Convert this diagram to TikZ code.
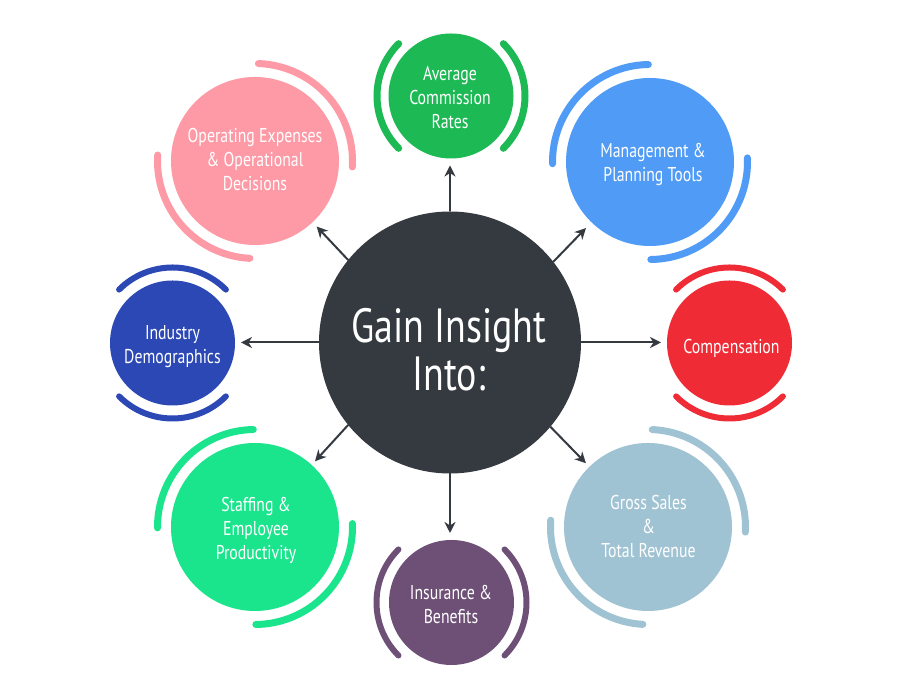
\documentclass[tikz,border=0pt]{standalone}
\usepackage{fontspec}
\setmainfont[FakeStretch=0.79]{PT Sans}
\usetikzlibrary{arrows.meta}
\definecolor{cdark}{HTML}{343A40}
\definecolor{cpink}{HTML}{FE9AA6}
\definecolor{cgreen}{HTML}{1DB954}
\definecolor{cblue}{HTML}{4F9BF5}
\definecolor{cred}{HTML}{EF2B36}
\definecolor{cnavy}{HTML}{2B48B5}
\definecolor{cmint}{HTML}{1AE48C}
\definecolor{csteel}{HTML}{A0C3D3}
\definecolor{cplum}{HTML}{6E5077}
\newcommand{\placed}[3]{\raisebox{-#2pt}[0pt][0pt]{\makebox[0pt]{\hspace{#1pt}\hspace{#1pt}\begin{tabular}{@{}c@{}}#3\end{tabular}}}}
\tikzset{
  x=1pt,y=1pt,
  topic/.style={circle,inner sep=0pt,outer sep=0pt,text=white,
    font=\fontsize{20}{24}\selectfont},
  bigtopic/.style={topic,minimum size=168pt},
  smalltopic/.style={topic,minimum size=125pt},
  hubnode/.style={circle,inner sep=0pt,outer sep=0pt,minimum size=262pt,fill=cdark,
    text=white,font=\fontsize{48}{48}\selectfont},
  bigarc/.style={line width=7pt,line cap=round},
  smallarc/.style={line width=6pt,line cap=round},
  link/.style={draw=cdark,line width=2pt,-{Stealth[length=11pt,width=11pt,inset=3.5pt]}}
}
\begin{document}
\begin{tikzpicture}
\useasboundingbox (0,0) rectangle (906,700);
\fill[white] (0,0) rectangle (906,700);

\node[hubnode] (hub) at (450,357.5) {\placed{-1}{20}{Gain Insight\\Into:}};
\node[bigtopic,fill=cpink] (pink) at (255,539) {\placed{0}{6}{Operating Expenses\\\& Operational\\Decisions}};
\node[smalltopic,fill=cgreen] (green) at (451,604) {\placed{-1}{9}{Average\\Commission\\Rates}};
\node[bigtopic,fill=cblue] (blue) at (650,538) {\placed{3}{8}{Management \&\\Planning Tools}};
\node[smalltopic,fill=cred] (red) at (729.5,357) {\placed{2}{11}{Compensation}};
\node[smalltopic,fill=cnavy] (navy) at (172.5,357) {\placed{0}{9}{Industry\\Demographics}};
\node[bigtopic,fill=cmint] (mint) at (255,173) {\placed{1}{9}{Staffing \&\\Employee\\Productivity}};
\node[bigtopic,fill=csteel] (steel) at (648,173) {\placed{0.5}{6.7}{Gross Sales\\\&\\Total Revenue}};
\node[smalltopic,fill=cplum] (plum) at (451.5,97.5) {\placed{-0.5}{9.7}{Insurance \&\\Benefits}};

% rings
\draw[bigarc,cpink] (pink.center) ++(88:97.5) arc[start angle=88,end angle=-3.5,radius=97.5];
\draw[bigarc,cpink] (pink.center) ++(176.5:97.5) arc[start angle=176.5,end angle=267,radius=97.5];
\draw[bigarc,cblue] (blue.center) ++(91:97.5) arc[start angle=91,end angle=181,radius=97.5];
\draw[bigarc,cblue] (blue.center) ++(2.4:97.5) arc[start angle=2.4,end angle=-89.5,radius=97.5];
\draw[bigarc,cmint] (mint.center) ++(91:97.5) arc[start angle=91,end angle=180.5,radius=97.5];
\draw[bigarc,cmint] (mint.center) ++(2:97.5) arc[start angle=2,end angle=-89.5,radius=97.5];
\draw[bigarc,csteel] (steel.center) ++(87.5:97.5) arc[start angle=87.5,end angle=-3,radius=97.5];
\draw[bigarc,csteel] (steel.center) ++(176:97.5) arc[start angle=176,end angle=267,radius=97.5];
\draw[bigarc,cgreen] (green.center) ++(135:74) arc[start angle=135,end angle=225,radius=74];
\draw[bigarc,cgreen] (green.center) ++(45:74) arc[start angle=45,end angle=-45,radius=74];
\draw[smallarc,cplum] (plum.center) ++(135:75) arc[start angle=135,end angle=225,radius=75];
\draw[smallarc,cplum] (plum.center) ++(45:75) arc[start angle=45,end angle=-45,radius=75];
\draw[smallarc,cnavy] (navy.center) ++(45:75.5) arc[start angle=45,end angle=135,radius=75.5];
\draw[smallarc,cnavy] (navy.center) ++(225:75.5) arc[start angle=225,end angle=315,radius=75.5];
\draw[smallarc,cred] (red.center) ++(45:75.5) arc[start angle=45,end angle=135,radius=75.5];
\draw[smallarc,cred] (red.center) ++(225:75.5) arc[start angle=225,end angle=315,radius=75.5];

% arrows
\draw[link,shorten >=7pt] (hub.90) -- (hub.90 |- green.south);
\draw[link,shorten >=7pt] (hub.270) -- (hub.270 |- plum.north);
\draw[link,shorten >=6pt] (hub.180) -- (hub.180 -| navy.east);
\draw[link,shorten >=6pt] (hub.0) -- (hub.0 -| red.west);
\draw[link,shorten >=6pt] (hub.141) -- (pink);
\draw[link,shorten >=8pt] (hub.38.5) -- (blue);
\draw[link,shorten >=5pt] (hub.219) -- (mint);
\draw[link,shorten >=5pt] (hub.-40.4) -- (steel);
\end{tikzpicture}
\end{document}
